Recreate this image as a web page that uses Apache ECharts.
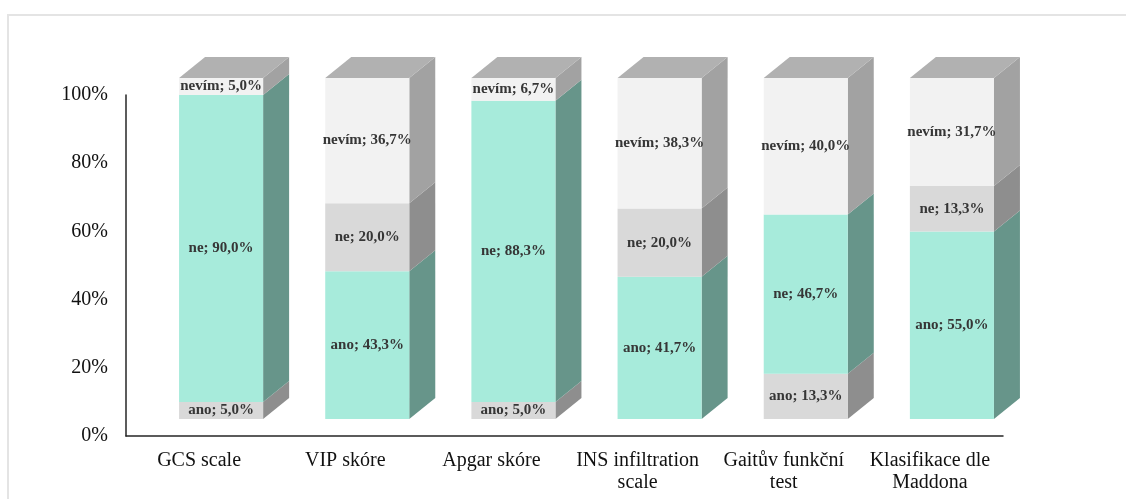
<!DOCTYPE html>
<html>
<head>
<meta charset="utf-8">
<script src="https://cdn.jsdelivr.net/npm/echarts@6/dist/echarts.min.js"></script>
<style>
  html, body { margin: 0; padding: 0; background: #fff; }
  #chart { width: 1126px; height: 499px; }
</style>
</head>
<body>
<div id="chart"></div>
<script>
const categories = ['GCS scale', 'VIP skóre', 'Apgar skóre', 'INS infiltration\nscale', 'Gaitův funkční\ntest', 'Klasifikace dle\nMaddona'];
const ano = [5.0, 43.3, 5.0, 41.7, 13.3, 55.0];
const ne = [90.0, 20.0, 88.3, 20.0, 46.7, 13.3];
const nevim = [5.0, 36.7, 6.7, 38.3, 40.0, 31.7];
const seriesNames = ['ano', 'ne', 'nevím'];
const yTicks = [0, 20, 40, 60, 80, 100];

const TEAL = { front: '#a7ebdb', side: '#67958a' };
const GREY = { front: '#d9d9d9', side: '#8e8e8e' };
const WHITE = { front: '#f2f2f2', side: '#a2a2a2' };
const TOP = '#b1b1b1';
const LABEL_FONT = 'bold 15px "Liberation Serif", "Times New Roman", serif';

// depth of the fake 3D box, in pixels
const DX = 26, DY = 21, SHIFT_X = 22, SHIFT_Y = -17;

function colorsFor(name, i) {
    if (name === 'nevím') return WHITE;
    const own = name === 'ano' ? ano[i] : ne[i];
    const other = name === 'ano' ? ne[i] : ano[i];
    return own >= other ? TEAL : GREY;
}

function buildData(values, below) {
    return values.map((v, i) => {
        const start = below.reduce((s, arr) => s + arr[i], 0);
        return [i, start, start + v, v];
    });
}

function makeSeries(name, values, below, isTop) {
    return {
        type: 'custom',
        name: name,
        data: buildData(values, below),
        renderItem: function (params, api) {
            const i = api.value(0);
            const p0 = api.coord([i, api.value(1)]);
            const p1 = api.coord([i, api.value(2)]);
            const band = api.size([1, 0])[0];
            const w = band * 0.575;
            const cx = p0[0] + SHIFT_X;
            const xl = cx - w / 2, xr = cx + w / 2;
            const yb = p0[1] + SHIFT_Y, yt = p1[1] + SHIFT_Y;
            const c = colorsFor(name, i);
            const children = [
                {
                    type: 'polygon',
                    shape: { points: [[xr, yb], [xr + DX, yb - DY], [xr + DX, yt - DY], [xr, yt]] },
                    style: { fill: c.side }
                },
                {
                    type: 'rect',
                    shape: { x: xl, y: yt, width: w, height: yb - yt },
                    style: { fill: c.front }
                }
            ];
            if (isTop) {
                children.push({
                    type: 'polygon',
                    shape: { points: [[xl, yt], [xl + DX, yt - DY], [xr + DX, yt - DY], [xr, yt]] },
                    style: { fill: TOP }
                });
            }
            children.push({
                type: 'text',
                style: {
                    text: name + '; ' + api.value(3).toFixed(1).replace('.', ',') + '%',
                    x: cx,
                    y: (yb + yt) / 2,
                    align: 'center',
                    verticalAlign: 'middle',
                    font: LABEL_FONT,
                    fill: '#363636'
                }
            });
            return { type: 'group', children: children };
        }
    };
}

const chart = echarts.init(document.getElementById('chart'));

const option = {
    animation: false,
    graphic: [
        {
            type: 'rect',
            shape: { x: 8, y: 15, width: 1200, height: 600 },
            style: { fill: 'none', stroke: '#e4e4e4', lineWidth: 2 },
            z: -10
        }
    ],
    grid: { left: 126, right: 123, top: 95, bottom: 63 },
    xAxis: {
        type: 'category',
        data: categories,
        axisTick: { show: false },
        axisLine: { lineStyle: { color: '#262626', width: 1.5 } },
        axisLabel: {
            color: '#111',
            fontFamily: '"Liberation Serif", "Times New Roman", serif',
            fontSize: 20,
            lineHeight: 22,
            margin: 14,
            interval: 0
        }
    },
    yAxis: {
        type: 'value',
        min: yTicks[0],
        max: yTicks[yTicks.length - 1],
        interval: yTicks[1] - yTicks[0],
        splitLine: { show: false },
        axisTick: { show: false },
        axisLine: { show: true, lineStyle: { color: '#262626', width: 1.5 } },
        axisLabel: {
            formatter: '{value}%',
            color: '#111',
            fontFamily: '"Liberation Serif", "Times New Roman", serif',
            fontSize: 20,
            margin: 18
        }
    },
    series: [
        makeSeries(seriesNames[0], ano, [], false),
        makeSeries(seriesNames[1], ne, [ano], false),
        makeSeries(seriesNames[2], nevim, [ano, ne], true)
    ]
};

chart.setOption(option);
window.addEventListener('resize', () => {
    chart.resize();
});
</script>
</body>
</html>
